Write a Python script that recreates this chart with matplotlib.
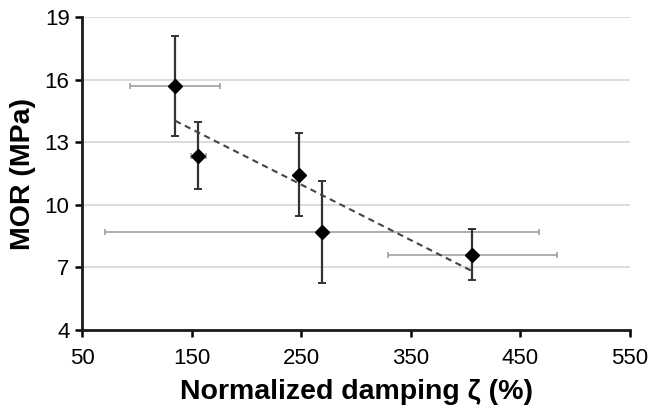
import numpy as np
import matplotlib.pyplot as plt

plt.rcParams['font.family'] = ['Liberation Sans', 'DejaVu Sans']

# Data
damping = [135, 156, 248, 269, 406]
damping_err = [41, 7, 0, 198, 77]
mor = [15.7, 12.35, 11.45, 8.7, 7.6]
mor_err = [2.4, 1.6, 2.0, 2.45, 1.22]

x_ticks = [50, 150, 250, 350, 450, 550]
y_ticks = [4, 7, 10, 13, 16, 19]


def main():
    fig = plt.figure(figsize=(6.49, 4.07), dpi=100)
    ax = fig.add_axes([0.1264, 0.1892, 0.8443, 0.769])

    # Horizontal grid
    for yv in y_ticks[1:]:
        ax.axhline(yv, color='#d9d9d9', lw=1.3, zorder=0)

    # Horizontal error bars (light)
    ax.errorbar(damping, mor, xerr=damping_err, fmt='none',
                ecolor='#999999', elinewidth=1.1, capsize=2.3, capthick=1.1, zorder=2)
    # Vertical error bars (dark)
    ax.errorbar(damping, mor, yerr=mor_err, fmt='none',
                ecolor='#333333', elinewidth=1.6, capsize=2.6, capthick=1.4, zorder=3)

    # Linear trend line over the data range
    slope, intercept = np.polyfit(damping, mor, 1)
    xs = np.array([min(damping), max(damping)])
    ax.plot(xs, slope * xs + intercept, ls=(0, (3, 2.2)), color='#444444', lw=1.5, zorder=4)

    ax.plot(damping, mor, 'D', color='black', ms=6.8, zorder=5)

    ax.set_xlim(50, 550)
    ax.set_ylim(4, 19)
    ax.set_xticks(x_ticks)
    ax.set_yticks(y_ticks)
    ax.tick_params(labelsize=16, width=1.8, length=5, direction='out')
    ax.tick_params(axis='x', pad=8)
    ax.tick_params(axis='y', pad=4)

    for side in ['top', 'right']:
        ax.spines[side].set_visible(False)
    for side in ['left', 'bottom']:
        ax.spines[side].set_linewidth(2)
        ax.spines[side].set_color('#1a1a1a')

    ax.set_xlabel('Normalized damping ζ (%)', fontsize=20.5, fontweight='bold', labelpad=7)
    ax.set_ylabel('MOR (MPa)', fontsize=20.5, fontweight='bold', labelpad=6)

    fig.savefig('out.png', dpi=100)


if __name__ == "__main__":
    main()
